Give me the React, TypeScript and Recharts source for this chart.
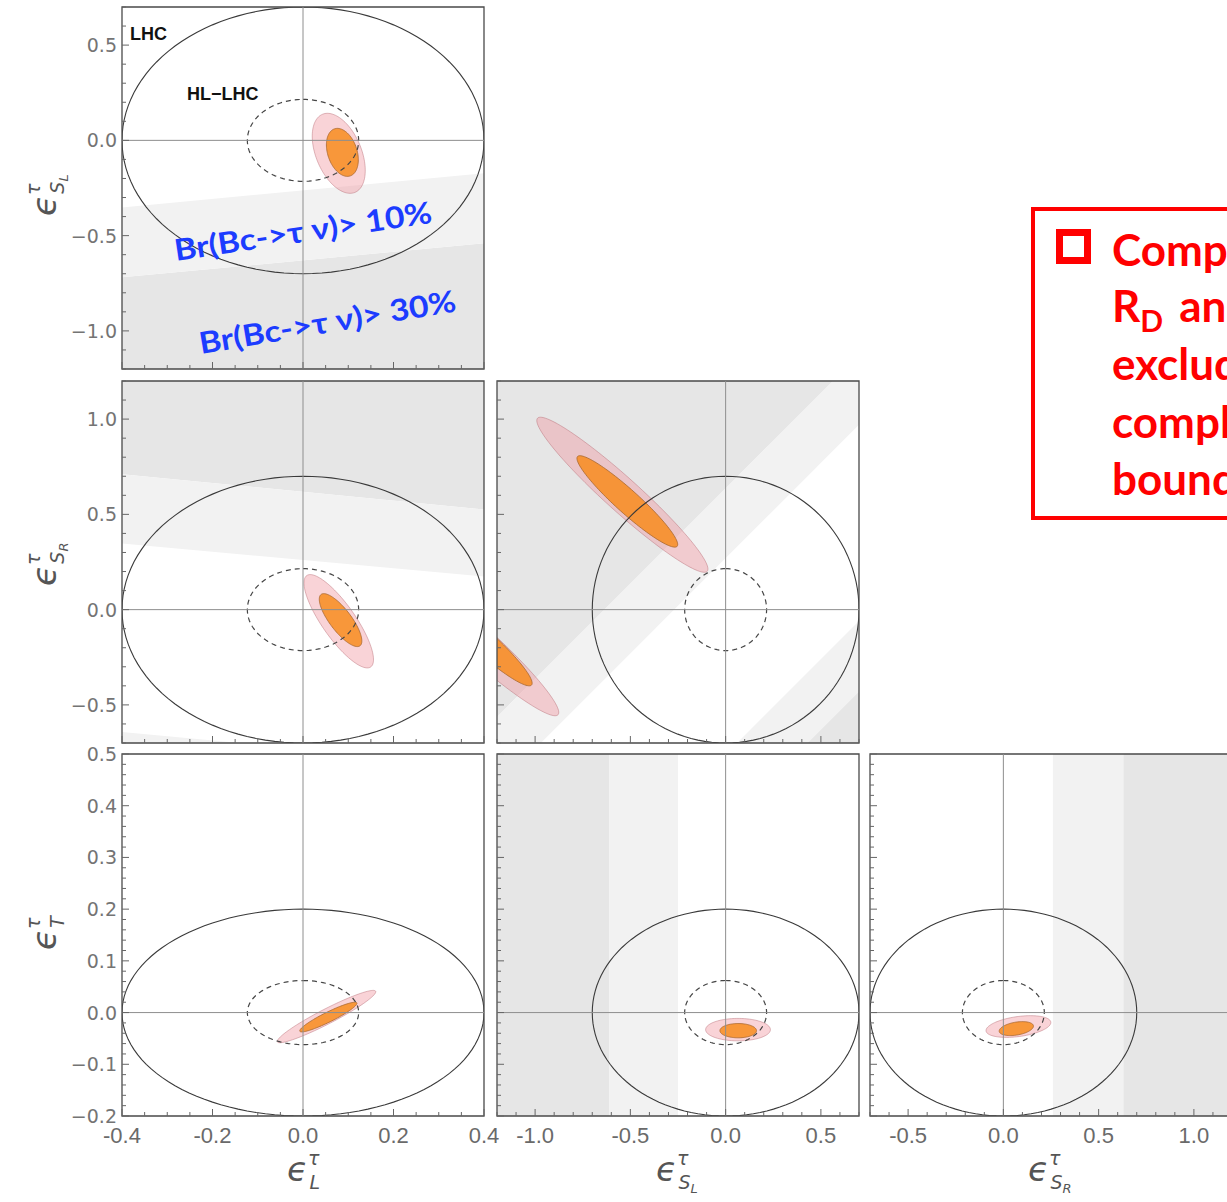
import { ComposedChart, Area, XAxis, YAxis, ReferenceArea, ReferenceLine } from 'recharts';

// axis ranges of the four couplings
const rangeL = [-0.4, 0.4];
const rangeSL = [-1.2, 0.7];
const rangeSR = [-0.7, 1.2];
const rangeT = [-0.2, 0.5];

// labelled ticks
const ticksL = [-0.4, -0.2, 0, 0.2, 0.4];
const ticksSL = [-1, -0.5, 0, 0.5];
const ticksSR = [-0.5, 0, 0.5, 1];
const ticksT = [-0.2, -0.1, 0, 0.1, 0.2, 0.3, 0.4, 0.5];

// LHC / HL-LHC half widths on eL, eSL, eSR, eT
const lhcBound = [0.4, 0.7, 0.7, 0.2];
const hlLhcBound = [0.123, 0.215, 0.215, 0.062];

// fit regions: [centre x, centre y, top point dx, top point dy, half chord through centre]
const fitLSL95 = [0.079, -0.068, -0.025, 0.21, 0.053];
const fitLSL68 = [0.087, -0.063, -0.011, 0.126, 0.0335];
const fitLSR95 = [0.079, -0.061, -0.063, 0.245, 0.044];
const fitLSR68 = [0.083, -0.055, -0.037, 0.139, 0.029];
const fitSLSR95a = [-0.542, 0.603, -0.43, 0.407, 0.13];
const fitSLSR68a = [-0.516, 0.568, -0.249, 0.24, 0.089];
const fitSLSR95b = [-1.325, -0.15, -0.43, 0.407, 0.13];
const fitSLSR68b = [-1.28, -0.16, -0.249, 0.24, 0.089];
const fitLT95 = [0.052, -0.0077, 0.103, 0.0506, 0.035];
const fitLT68 = [0.056, -0.0087, 0.0586, 0.0287, 0.0236];
const fitSLT95 = [0.065, -0.033, 0, 0.0217, 0.17];
const fitSLT68 = [0.066, -0.035, 0, 0.0138, 0.096];
const fitSRT95 = [0.079, -0.027, 0.063, 0.021, 0.158];
const fitSRT68 = [0.068, -0.031, 0.032, 0.0135, 0.084];

// Br(Bc -> tau nu) exclusion edges
const bandXL = [-0.4, 0.4];
const slBr10EdgeOnL = [-0.352, -0.173];
const slBr30EdgeOnL = [-0.719, -0.54];
const srBr30EdgeOnL = [0.711, 0.526];
const srBr10EdgeOnL = [0.347, 0.174];
const srBr10LowEdgeOnL = [-0.642, -0.82];
const bandXSL = [-1.2, 0.7];
const diagBr30Up = [-0.564, 1.336];
const diagBr10Up = [-0.93, 0.97];
const diagBr10Low = [-1.96, -0.06];
const diagBr30Low = [-2.33, -0.43];
const slBrEdges = [-0.61, -0.25];
const srBrEdges = [0.26, 0.63];

const COL_LEFT = [122, 497, 870];
const ROW_TOP = [7, 381, 754];
const PANEL = 362;
const TM = 6;
const DARK = '#e6e6e6';
const LIGHT = '#f2f2f2';

const PINK = { fill: 'rgba(240,150,160,0.42)', stroke: 'rgba(180,100,110,0.55)', strokeWidth: 0.8 };
const ORANGE = { fill: 'rgba(248,140,30,0.85)', stroke: '#a8672f', strokeWidth: 0.8 };
const LHC = { fill: 'none', stroke: '#3a3a3a', strokeWidth: 1.1 };
const HL = { fill: 'none', stroke: '#454545', strokeWidth: 1.2, strokeDasharray: '5 4' };

function tickList(range: number[], step: number) {
    const out: number[] = [];
    const n = Math.round((range[1] - range[0]) / step);
    for (let i = 0; i <= n; i++) out.push(+(range[0] + i * step).toFixed(4));
    return out;
}

const isMajor = (majors: number[], v: number) => majors.some(m => Math.abs(m - v) < 1e-6);

function makeXTick(majors: number[], withLabels: boolean) {
    return (p: any) => {
        const v = p.payload.value;
        const major = isMajor(majors, v);
        const axisY = p.y - TM;
        const len = major ? 7 : 4;
        return (
            <g>
                <line x1={p.x} x2={p.x} y1={axisY} y2={axisY - len} stroke="#666" strokeWidth={1} />
                {withLabels && major && (
                    <text x={p.x} y={axisY + 27} textAnchor="middle" fontFamily="'Liberation Sans', Arial, sans-serif"
                        fontSize={22} fill="#6a6a6a">{v.toFixed(1)}</text>
                )}
            </g>
        );
    };
}

function makeYTick(majors: number[], withLabels: boolean) {
    return (p: any) => {
        const v = p.payload.value;
        const major = isMajor(majors, v);
        const axisX = p.x + TM;
        const len = major ? 7 : 4;
        return (
            <g>
                <line x1={axisX} x2={axisX + len} y1={p.y} y2={p.y} stroke="#666" strokeWidth={1} />
                {withLabels && major && (
                    <text x={axisX - 5} y={p.y + 7} textAnchor="end" fontFamily="'DejaVu Sans', sans-serif"
                        fontSize={19} fill="#747474">{v.toFixed(1).replace('-', '\u2212')}</text>
                )}
            </g>
        );
    };
}

// ellipse through the library's scale: the ReferenceArea box is the ellipse's bounding box
function ellipseArea(key: string, e: number[], style: any) {
    const [cx, cy, ux, uy, w] = e;
    const ex = Math.hypot(ux, w);
    const ey = Math.abs(uy);
    const shape = (p: any) => {
        const sx = p.width / (2 * ex);
        const sy = p.height / (2 * ey);
        const pcx = p.x + p.width / 2;
        const pcy = p.y + p.height / 2;
        let d = '';
        for (let i = 0; i <= 120; i++) {
            const t = (i / 120) * 2 * Math.PI;
            const px = pcx + sx * (ux * Math.cos(t) + w * Math.sin(t));
            const py = pcy - sy * uy * Math.cos(t);
            d += (i ? 'L' : 'M') + px.toFixed(2) + ',' + py.toFixed(2);
        }
        return <path d={d + 'Z'} clipPath={p.clipPath} {...style} />;
    };
    return (
        <ReferenceArea key={key} x1={cx - ex} x2={cx + ex} y1={cy - ey} y2={cy + ey}
            ifOverflow="hidden" shape={shape} />
    );
}

const dataLSL = bandXL.map((x, i) => ({
    x,
    br30: [rangeSL[0], slBr30EdgeOnL[i]],
    br10: [slBr30EdgeOnL[i], slBr10EdgeOnL[i]],
}));
const dataLSR = bandXL.map((x, i) => ({
    x,
    br30: [srBr30EdgeOnL[i], rangeSR[1]],
    br10: [srBr10EdgeOnL[i], srBr30EdgeOnL[i]],
    br10b: [rangeSR[0], srBr10LowEdgeOnL[i]],
}));
const dataSLSR = bandXSL.map((x, i) => ({
    x,
    br30: [diagBr30Up[i], rangeSR[1]],
    br10: [diagBr10Up[i], diagBr30Up[i]],
    br10b: [diagBr30Low[i], diagBr10Low[i]],
    br30b: [rangeSR[0], diagBr30Low[i]],
}));

const panels = [
    {
        col: 0, row: 0, xr: rangeL, yr: rangeSL, xt: ticksL, yt: ticksSL, xStep: 0.05, yStep: 0.1,
        data: dataLSL, areas: [['br30', DARK], ['br10', LIGHT]], vBands: [],
        fits: [[fitLSL95, fitLSL68]], bound: [lhcBound[0], lhcBound[1]], hl: [hlLhcBound[0], hlLhcBound[1]],
    },
    {
        col: 0, row: 1, xr: rangeL, yr: rangeSR, xt: ticksL, yt: ticksSR, xStep: 0.05, yStep: 0.1,
        data: dataLSR, areas: [['br30', DARK], ['br10', LIGHT], ['br10b', LIGHT]], vBands: [],
        fits: [[fitLSR95, fitLSR68]], bound: [lhcBound[0], lhcBound[2]], hl: [hlLhcBound[0], hlLhcBound[2]],
    },
    {
        col: 1, row: 1, xr: rangeSL, yr: rangeSR, xt: ticksSL, yt: ticksSR, xStep: 0.1, yStep: 0.1,
        data: dataSLSR, areas: [['br30', DARK], ['br10', LIGHT], ['br10b', LIGHT], ['br30b', DARK]], vBands: [],
        fits: [[fitSLSR95a, fitSLSR68a], [fitSLSR95b, fitSLSR68b]],
        bound: [lhcBound[1], lhcBound[2]], hl: [hlLhcBound[1], hlLhcBound[2]],
    },
    {
        col: 0, row: 2, xr: rangeL, yr: rangeT, xt: ticksL, yt: ticksT, xStep: 0.05, yStep: 0.02,
        data: rangeL.map(x => ({ x })), areas: [], vBands: [],
        fits: [[fitLT95, fitLT68]], bound: [lhcBound[0], lhcBound[3]], hl: [hlLhcBound[0], hlLhcBound[3]],
    },
    {
        col: 1, row: 2, xr: rangeSL, yr: rangeT, xt: ticksSL, yt: ticksT, xStep: 0.1, yStep: 0.02,
        data: rangeSL.map(x => ({ x })), areas: [],
        vBands: [[rangeSL[0], slBrEdges[0], DARK], [slBrEdges[0], slBrEdges[1], LIGHT]],
        fits: [[fitSLT95, fitSLT68]], bound: [lhcBound[1], lhcBound[3]], hl: [hlLhcBound[1], hlLhcBound[3]],
    },
    {
        col: 2, row: 2, xr: rangeSR, yr: rangeT, xt: ticksSR, yt: ticksT, xStep: 0.1, yStep: 0.02,
        data: rangeSR.map(x => ({ x })), areas: [],
        vBands: [[srBrEdges[0], srBrEdges[1], LIGHT], [srBrEdges[1], rangeSR[1], DARK]],
        fits: [[fitSRT95, fitSRT68]], bound: [lhcBound[2], lhcBound[3]], hl: [hlLhcBound[2], hlLhcBound[3]],
    },
];

function Panel({ cfg }: { cfg: any }) {
    const yW = cfg.col === 0 ? 122 : 8;
    const xH = cfg.row === 2 ? 44 : 8;
    const m = { top: 14, right: 18, bottom: 0, left: 0 };
    return (
        <div style={{ position: 'absolute', left: COL_LEFT[cfg.col] - yW, top: ROW_TOP[cfg.row] - m.top }}>
            <ComposedChart width={yW + PANEL + m.right} height={m.top + PANEL + xH} data={cfg.data} margin={m}>
                {cfg.areas.map((a: any) => (
                    <Area key={a[0]} type="linear" dataKey={a[0]} stroke="none" fill={a[1]} fillOpacity={1}
                        dot={false} activeDot={false} isAnimationActive={false} />
                ))}
                {cfg.vBands.map((b: any, i: number) => (
                    <ReferenceArea key={'v' + i} x1={b[0]} x2={b[1]} fill={b[2]} fillOpacity={1}
                        stroke="none" ifOverflow="hidden" />
                ))}
                {cfg.fits.map((f: any, i: number) => [
                    ellipseArea('p' + i, f[0], PINK),
                    ellipseArea('o' + i, f[1], ORANGE),
                ])}
                <ReferenceLine x={0} stroke="#8e8e8e" strokeWidth={1} ifOverflow="hidden" />
                <ReferenceLine y={0} stroke="#8e8e8e" strokeWidth={1} ifOverflow="hidden" />
                {ellipseArea('lhc', [0, 0, 0, cfg.bound[1], cfg.bound[0]], LHC)}
                {ellipseArea('hl', [0, 0, 0, cfg.hl[1], cfg.hl[0]], HL)}
                <ReferenceArea x1={cfg.xr[0]} x2={cfg.xr[1]} y1={cfg.yr[0]} y2={cfg.yr[1]}
                    fill="none" stroke="#4a4a4a" strokeWidth={1.3} ifOverflow="visible" />
                <XAxis type="number" dataKey="x" domain={cfg.xr} allowDataOverflow ticks={tickList(cfg.xr, cfg.xStep)}
                    interval={0} height={xH} tickSize={0} tickMargin={TM} axisLine={false} tickLine={false}
                    tick={makeXTick(cfg.xt, cfg.row === 2)} />
                <YAxis type="number" domain={cfg.yr} allowDataOverflow ticks={tickList(cfg.yr, cfg.yStep)}
                    interval={0} width={yW} tickSize={0} tickMargin={TM} axisLine={false} tickLine={false}
                    tick={makeYTick(cfg.yt, cfg.col === 0)} />
            </ComposedChart>
        </div>
    );
}

function Title({ x, y, sub, subsub, rotate }: any) {
    return (
        <text x={x} y={y} fill="#555" fontFamily="'DejaVu Sans', sans-serif" fontStyle="italic"
            transform={rotate ? `rotate(-90 ${x} ${y})` : undefined}>
            <tspan fontSize={34}>ϵ</tspan>
            <tspan fontSize={19} dy={-16}>τ</tspan>
            <tspan fontSize={19} dx={-10} dy={24}>{sub}</tspan>
            {subsub && <tspan fontSize={13} dy={4}>{subsub}</tspan>}
        </text>
    );
}

export default function App() {
    return (
        <div style={{ position: 'absolute', left: 0, top: 0, width: 1227, height: 1202, overflow: 'hidden', background: '#fff' }}>
            {panels.map((p, i) => <Panel key={i} cfg={p} />)}
            <svg width={1227} height={1202} style={{ position: 'absolute', left: 0, top: 0, pointerEvents: 'none' }}>
                <text x={130} y={40} fontFamily="'Liberation Sans', Arial, sans-serif" fontWeight="bold" fontSize={18} fill="#111">LHC</text>
                <text x={187} y={100} fontFamily="'Liberation Sans', Arial, sans-serif" fontWeight="bold" fontSize={18} fill="#111">HL−LHC</text>
                <text x={176} y={261} transform="rotate(-8.5 176 261)" fontFamily="Lato, 'Open Sans', sans-serif"
                    fontWeight="bold" fontSize={30} fill="#1c3cff" textLength={260} lengthAdjust="spacingAndGlyphs">Br(Bc-&gt;τ ν)&gt; 10%</text>
                <text x={201} y={354} transform="rotate(-9.5 201 354)" fontFamily="Lato, 'Open Sans', sans-serif"
                    fontWeight="bold" fontSize={30} fill="#1c3cff" textLength={260} lengthAdjust="spacingAndGlyphs">Br(Bc-&gt;τ ν)&gt; 30%</text>

                <Title x={287} y={1181} sub="L" />
                <Title x={656} y={1181} sub="S" subsub="L" />
                <Title x={1028} y={1181} sub="S" subsub="R" />
                <Title x={56} y={216} sub="S" subsub="L" rotate />
                <Title x={56} y={586} sub="S" subsub="R" rotate />
                <Title x={56} y={950} sub="T" rotate />

                <rect x={1033} y={209} width={320} height={309} fill="none" stroke="#ff0000" strokeWidth={4} />
                <rect x={1059.5} y={232.5} width={28} height={28} fill="none" stroke="#ff0000" strokeWidth={7} />
                <g fontFamily="Lato, 'Open Sans', sans-serif" fontWeight="bold" fontSize={44} fill="#ff0000">
                    <text x={1112} y={266}>Compared to</text>
                    <text x={1112} y={322}>R<tspan fontSize={30} dy={10}>D</tspan><tspan dx={16} dy={-10}>and R</tspan></text>
                    <text x={1112} y={380}>excludes a</text>
                    <text x={1112} y={438}>complementary</text>
                    <text x={1112} y={495}>bounds</text>
                </g>
            </svg>
        </div>
    );
}
